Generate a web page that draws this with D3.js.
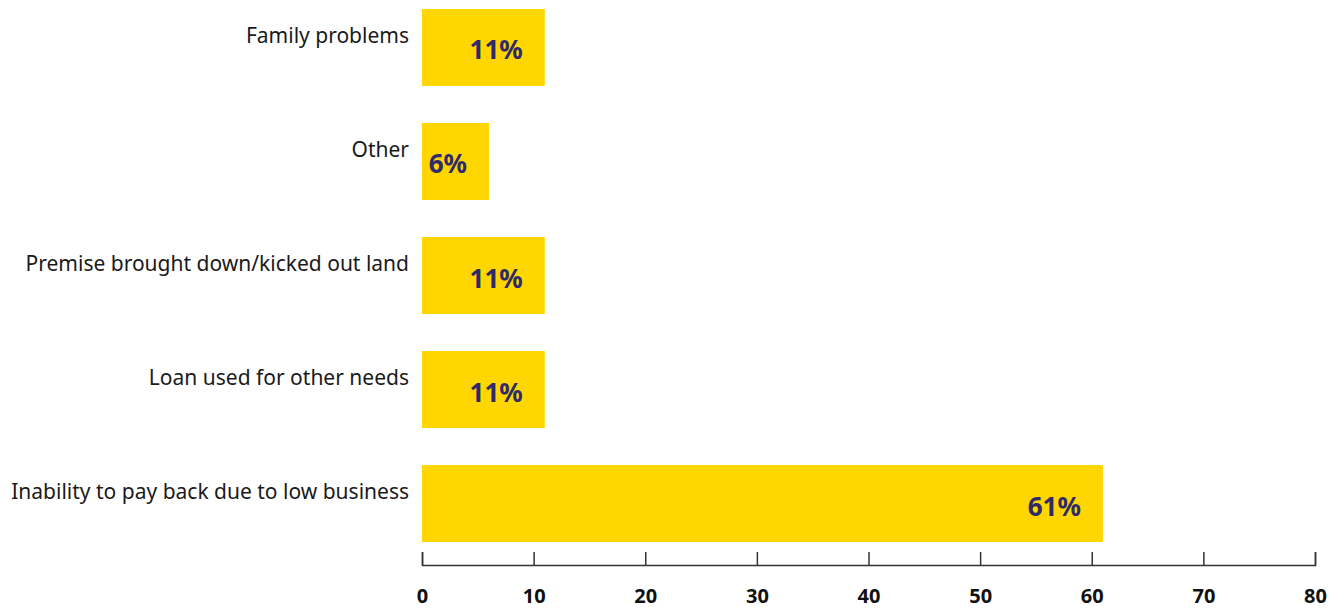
<!DOCTYPE html>
<html>
<head>
<meta charset="utf-8">
<script src="https://cdn.jsdelivr.net/npm/d3@7"></script>
<style>
  html, body { margin: 0; padding: 0; background: #fff; }
  svg { display: block; }
</style>
</head>
<body>
<svg id="chart" width="1343" height="610"></svg>
<script>
// Reasons given for not repaying, share of respondents (%)
const categories = [
  "Family problems",
  "Other",
  "Premise brought down/kicked out land",
  "Loan used for other needs",
  "Inability to pay back due to low business"
];
const values = [11, 6, 11, 11, 61];
const xTicks = [0, 10, 20, 30, 40, 50, 60, 70, 80];

const data = categories.map((c, i) => ({ category: c, value: values[i] }));

const svg = d3.select("#chart");
const plotLeft = 422, plotRight = 1315, plotTop = 9, plotBottom = 542, axisY = 565;

const x = d3.scaleLinear().domain([0, 80]).range([plotLeft, plotRight]);
const y = d3.scaleBand().domain(categories).range([plotTop, plotBottom])
  .paddingInner(0.325).paddingOuter(0);

// bars
svg.append("g").selectAll("rect").data(data).join("rect")
  .attr("x", x(0))
  .attr("y", d => y(d.category))
  .attr("width", d => x(d.value) - x(0))
  .attr("height", y.bandwidth())
  .attr("fill", "#FFD600");

// value labels inside bars
svg.append("g").selectAll("text").data(data).join("text")
  .attr("x", d => x(d.value) - 22)
  .attr("y", d => y(d.category) + y.bandwidth() / 2 + 12)
  .attr("text-anchor", "end")
  .attr("font-family", "'Noto Sans', sans-serif")
  .attr("font-weight", 700)
  .attr("font-size", 26)
  .attr("fill", "#2E2A6B")
  .text(d => d.value + "%");

// category labels
svg.append("g").selectAll("text").data(data).join("text")
  .attr("x", 409)
  .attr("y", d => y(d.category) + 34)
  .attr("text-anchor", "end")
  .attr("font-family", "'Noto Sans', sans-serif")
  .attr("font-size", 21)
  .attr("fill", "#1a1a1a")
  .text(d => d.category);

// x axis with upward ticks
const axis = d3.axisBottom(x).tickValues(xTicks).tickSize(-13).tickSizeOuter(-13).tickPadding(24);
const gx = svg.append("g").attr("transform", `translate(0,${axisY})`).call(axis);
gx.select(".domain").attr("stroke", "#333").attr("stroke-width", 1.5);
gx.selectAll(".tick line").attr("stroke", "#333").attr("stroke-width", 1.5);
gx.selectAll(".tick text")
  .attr("font-family", "'Noto Sans', sans-serif")
  .attr("font-weight", 700)
  .attr("font-size", 20)
  .attr("fill", "#111");
</script>
</body>
</html>
